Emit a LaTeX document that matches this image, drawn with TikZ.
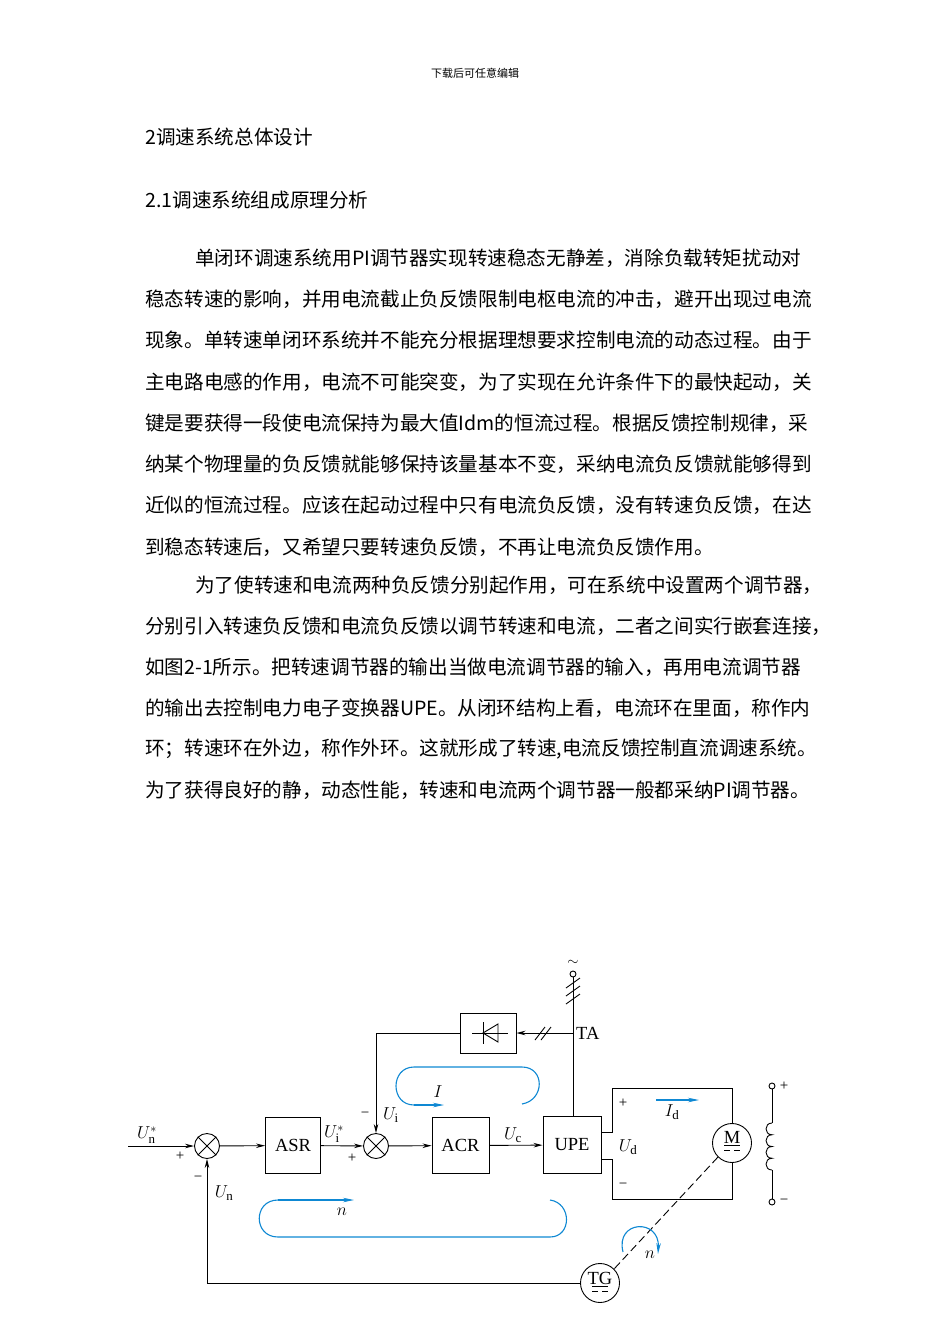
\documentclass[tikz,border=0pt]{standalone}
\usepackage{fontspec}
\setmainfont{Liberation Serif}
\newfontfamily\cjk{Noto Sans CJK SC}
\usetikzlibrary{arrows.meta}
\begin{document}
\begin{tikzpicture}[x=1pt,y=-1pt,
  para/.style={anchor=west,inner sep=0,font=\cjk\fontsize{19.6}{22}\selectfont},
  blk/.style={draw,line width=0.9pt,minimum width=55pt,minimum height=56pt,font=\fontsize{18.5}{20}\selectfont},
  sumc/.style={draw,circle,line width=0.9pt,minimum size=25pt,inner sep=0},
  lbl/.style={font=\fontsize{18.5}{20}\selectfont,inner sep=1pt},
  sml/.style={font=\fontsize{15}{15}\selectfont,inner sep=1pt},
  wire/.style={line width=0.9pt},
  arr/.style={wire,-{Stealth[length=9pt,width=4.5pt]}},
  loopc/.style={draw=cyan!70!blue,line width=1.1pt},
  looparr/.style={loopc,-{Stealth[length=11pt,width=4.5pt]}}]
\useasboundingbox (0,0) rectangle (950,1344);
\node[anchor=center,font=\cjk\fontsize{11}{13}\selectfont] (hdr) at (475,73) {下载后可任意编辑};
\node[para] (h1) at (145,137) {2调速系统总体设计};
\node[para] (h2) at (145,200) {2.1调速系统组成原理分析};
\node[para] (l1) at (195,258) {单闭环调速系统用PI调节器实现转速稳态无静差，消除负载转矩扰动对};
\node[para] (l2) at (145,299) {稳态转速的影响，并用电流截止负反馈限制电枢电流的冲击，避开出现过电流};
\node[para] (l3) at (145,340) {现象。单转速单闭环系统并不能充分根据理想要求控制电流的动态过程。由于};
\node[para] (l4) at (145,382) {主电路电感的作用，电流不可能突变，为了实现在允许条件下的最快起动，关};
\node[para] (l5) at (145,423) {键是要获得一段使电流保持为最大值Idm的恒流过程。根据反馈控制规律，采};
\node[para] (l6) at (145,464) {纳某个物理量的负反馈就能够保持该量基本不变，采纳电流负反馈就能够得到};
\node[para] (l7) at (145,505) {近似的恒流过程。应该在起动过程中只有电流负反馈，没有转速负反馈，在达};
\node[para] (l8) at (145,547) {到稳态转速后，又希望只要转速负反馈，不再让电流负反馈作用。};
\node[para] (l9) at (195,585) {为了使转速和电流两种负反馈分别起作用，可在系统中设置两个调节器，};
\node[para] (l10) at (145,626) {分别引入转速负反馈和电流负反馈以调节转速和电流，二者之间实行嵌套连接，};
\node[para] (l11) at (145,667) {如图2-1所示。把转速调节器的输出当做电流调节器的输入，再用电流调节器};
\node[para] (l12) at (145,708) {的输出去控制电力电子变换器UPE。从闭环结构上看，电流环在里面，称作内};
\node[para] (l13) at (145,749) {环；转速环在外边，称作外环。这就形成了转速,电流反馈控制直流调速系统。};
\node[para] (l14) at (145,790) {为了获得良好的静，动态性能，转速和电流两个调节器一般都采纳PI调节器。};

% diagram
\coordinate (in) at (128,1146);
\node[sumc] (s1) at (207,1146) {};
\draw[wire] (s1.north west)--(s1.south east) (s1.north east)--(s1.south west);
\node[blk] (asr) at (293,1145.5) {ASR};
\node[sumc] (s2) at (376,1146) {};
\draw[wire] (s2.north west)--(s2.south east) (s2.north east)--(s2.south west);
\node[blk,minimum width=57pt] (acr) at (460.5,1145.5) {ACR};
\node[blk,minimum width=58pt,minimum height=57pt] (upe) at (572,1145) {UPE};
\node[draw,line width=0.9pt,minimum width=56pt,minimum height=40pt] (rect) at (488,1033) {};
\draw[wire] (472,1033)--(508,1033) (483,1022)--(483,1044);
\draw[wire] (483,1033)--(498,1024)--(498,1042)--cycle;
\node[draw,circle,line width=0.9pt,minimum size=39pt,inner sep=0] (m) at (732,1143) {};
\node[lbl] (mt) at (732,1137) {M};
\draw[wire] (724,1145)--(740,1145) (724,1150)--(730,1150) (734,1150)--(740,1150);
\node[draw,circle,line width=0.9pt,minimum size=39pt,inner sep=0] (tg) at (600,1283) {};
\node[lbl] (tgt) at (600,1278) {TG};
\draw[wire] (592,1286)--(608,1286) (592,1291)--(598,1291) (602,1291)--(608,1291);

\draw[arr] (in)--(s1);
\draw[arr] (s1)--(asr);
\draw[arr] (asr)--(s2);
\draw[arr] (s2)--(acr);
\draw[arr] (acr)--(upe);
% TA
\coordinate (top) at (573,974);
\draw[wire] (upe.north-|top)--(573,977);
\draw[wire] (top) circle (3);
\draw[wire] (566,988)--(580,978) (566,996)--(580,986) (566,1004)--(580,994);
\node[sml] (tilde) at (573,963) {$\sim$};
\node[lbl,anchor=west] (ta) at (575,1033) {TA};
\draw[arr] (573,1033)--(rect.east);
\draw[wire] (535,1040)--(545,1027) (541,1040)--(551,1027);
\draw[arr] (rect.west)-|(s2.north);
% motor circuit
\draw[wire] (upe.east|-0,1132)--(612,1132)--(612,1088)-|(m.north);
\draw[wire] (upe.east|-0,1159)--(612,1159)--(612,1199)-|(m.south);
% field
\draw[wire] (772,1089)--(772,1123);
\draw[wire] (772,1170)--(772,1199);
\draw[wire] (772,1086) circle (3) (772,1202) circle (3);
\draw[wire] (772,1123) .. controls (764,1123) and (764,1134.75) .. (772,1134.75)
  .. controls (764,1134.75) and (764,1146.5) .. (772,1146.5)
  .. controls (764,1146.5) and (764,1158.25) .. (772,1158.25)
  .. controls (764,1158.25) and (764,1170) .. (772,1170);
\node[sml] (fp) at (784,1086) {+};
\node[sml] (fm) at (784,1202) {\textminus};
% speed feedback
\draw[arr] (tg.west)-|(s1.south);
\draw[wire,dash pattern=on 8pt off 4pt] (m.south west)--(tg.north east);
% labels
\node[lbl] (lun) at (147,1135) {$U_{\mathrm n}^{*}$};
\node[sml] (p1) at (180,1156) {+};
\node[sml] (m1) at (198,1179) {\textminus};
\node[lbl] (lu) at (224,1193) {$U_{\mathrm n}$};
\node[lbl] (lui) at (334,1134) {$U_{\mathrm i}^{*}$};
\node[sml] (m2) at (365,1115) {\textminus};
\node[lbl] (lui2) at (391,1115) {$U_{\mathrm i}$};
\node[sml] (p2) at (352,1158) {+};
\node[lbl] (luc) at (513,1135) {$U_{\mathrm c}$};
\node[lbl] (lud) at (628,1147) {$U_{\mathrm d}$};
\node[sml] (pd) at (623,1103) {+};
\node[sml] (md) at (623,1186) {\textminus};
\node[lbl] (lid) at (672,1112) {$I_{\mathrm d}$};
\draw[looparr] (656,1100)--(699,1100);
% loops
\draw[loopc] (522,1104) .. controls (545,1100) and (545,1067) .. (522,1067) -- (414,1067) .. controls (390,1067) and (390,1105) .. (414,1105);
\draw[looparr] (414,1105) -- (444,1105);
\node[lbl] (li) at (438,1092) {$I$};
\draw[loopc] (550,1200) .. controls (572,1203) and (572,1237) .. (550,1237) -- (278,1237) .. controls (253,1237) and (253,1200) .. (278,1200);
\draw[looparr] (278,1200) -- (354,1200);
\node[lbl] (ln) at (342,1212) {$n$};
\draw[looparr] (623,1252) .. controls (615,1220) and (660,1218) .. (658,1254);
\node[lbl] (ln2) at (650,1255) {$n$};
\end{tikzpicture}
\end{document}
